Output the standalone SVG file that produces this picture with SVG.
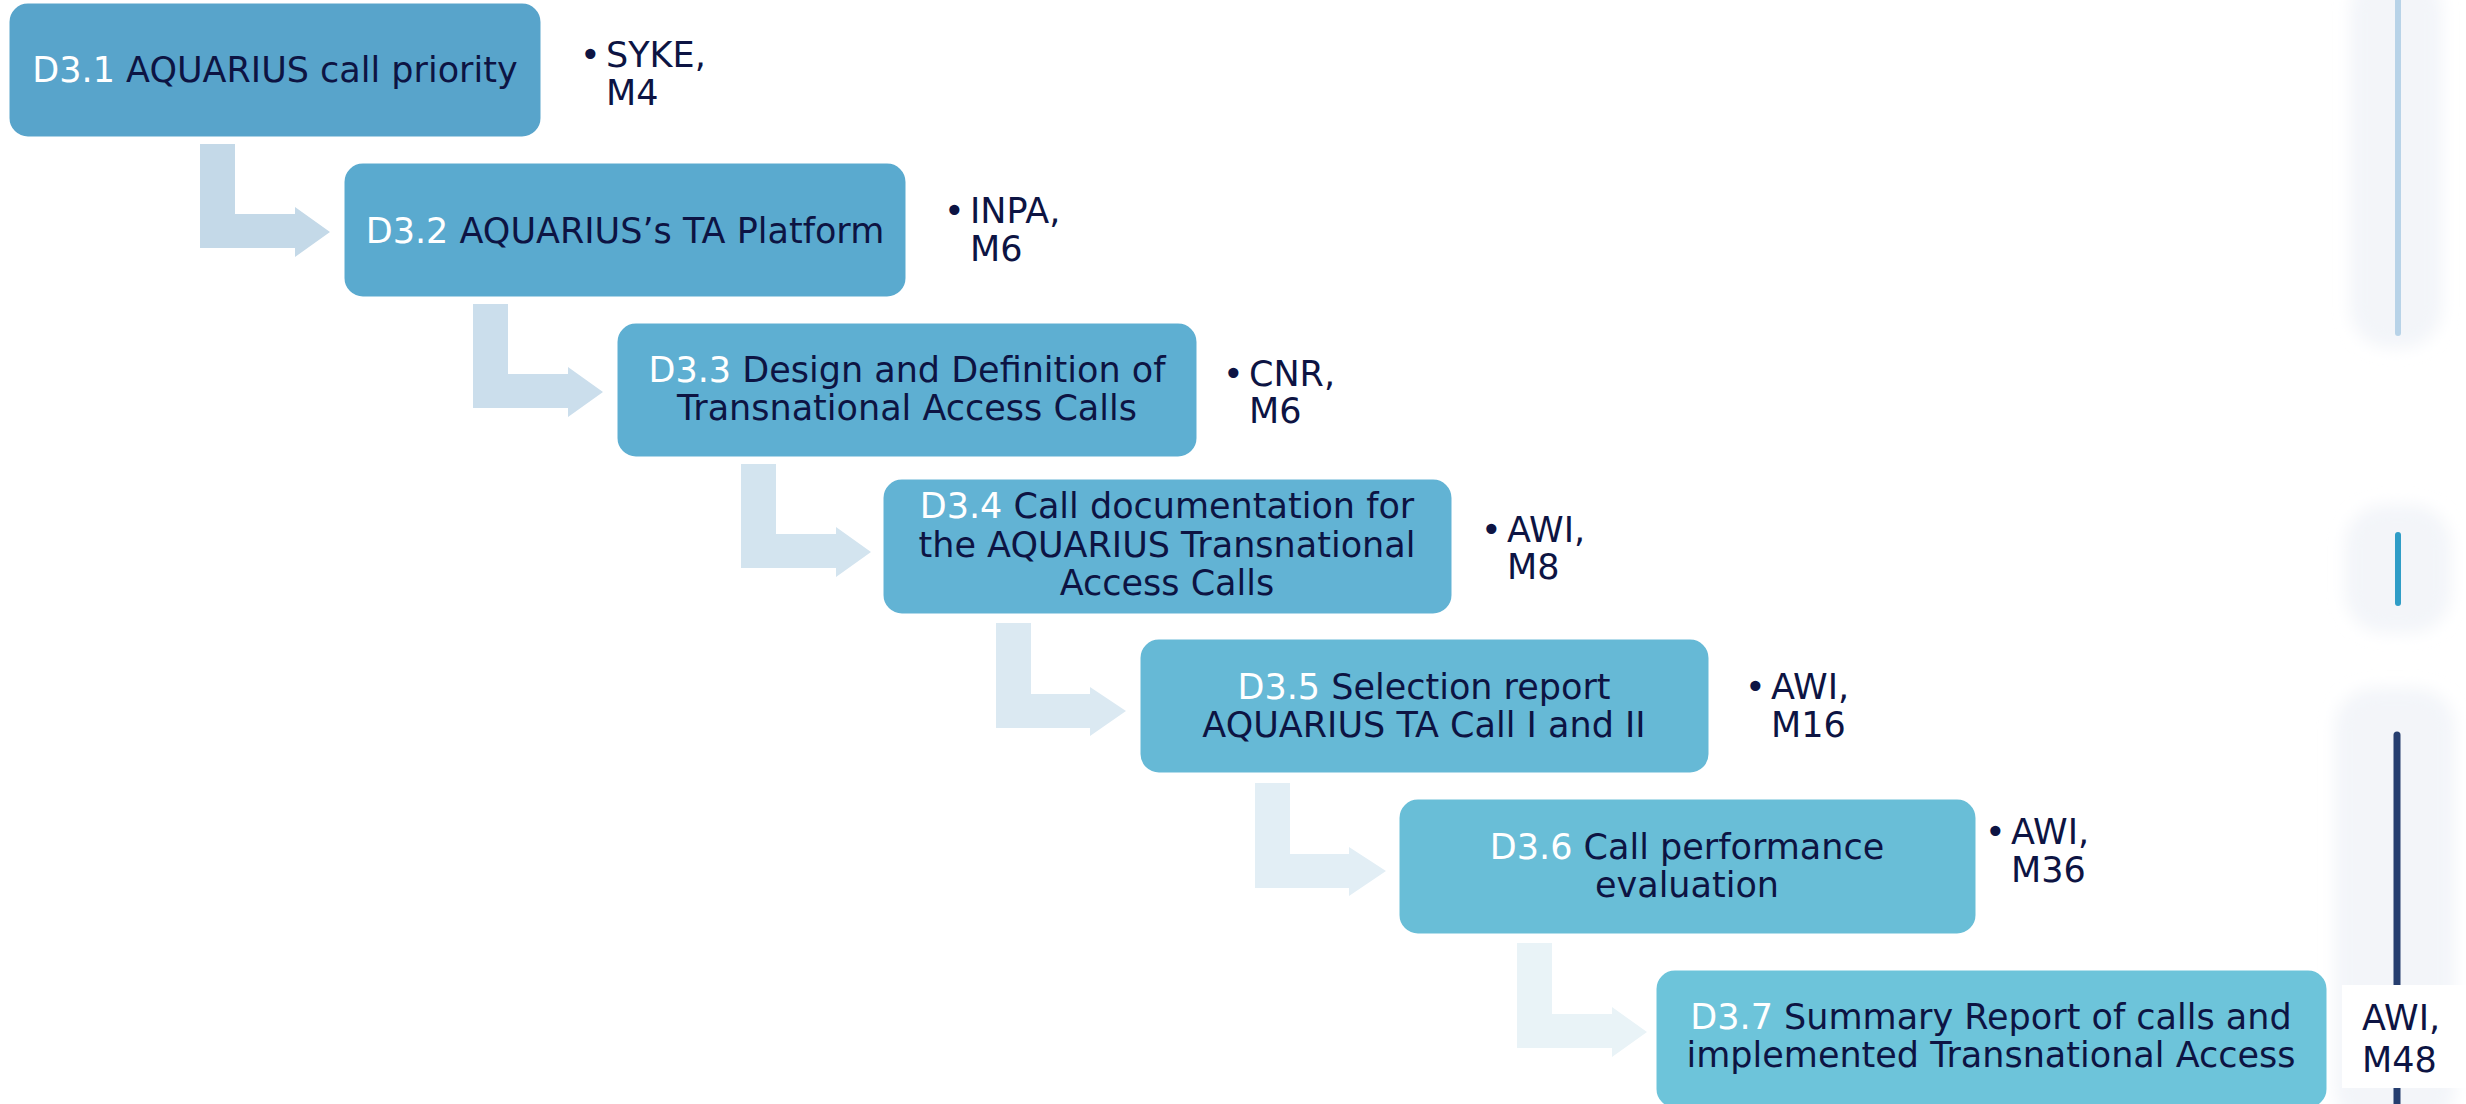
<svg xmlns="http://www.w3.org/2000/svg" width="2466" height="1104" viewBox="0 0 2466 1104">
<style>
  .box { stroke: #ffffff; stroke-width: 3; }
  .t { font-family: "DejaVu Sans", Verdana, sans-serif; font-size: 35px; fill: #0d1443; }
  .tc { text-anchor: middle; }
  .w { fill: #ffffff; }
  .arr { stroke: none; }
  .glow { fill: #f3f5f9; filter: url(#soft); }
</style>
<defs>
  <filter id="soft" x="-50%" y="-50%" width="200%" height="200%">
    <feGaussianBlur stdDeviation="8"/>
  </filter>
</defs>
<rect width="2466" height="1104" fill="#ffffff"/>

<g id="timeline">
  <rect class="glow" x="2350" y="-30" width="92" height="378" rx="40"/>
  <line x1="2398" y1="0" x2="2398" y2="333" stroke="#b8d3e8" stroke-width="6" stroke-linecap="round"/>
  <rect class="glow" x="2345" y="505" width="106" height="128" rx="40"/>
  <line x1="2398" y1="535" x2="2398" y2="603" stroke="#2f9dc7" stroke-width="6" stroke-linecap="round"/>
  <rect class="glow" x="2335" y="688" width="120" height="440" rx="40"/>
  <line x1="2397" y1="735" x2="2397" y2="1110" stroke="#263e6f" stroke-width="7" stroke-linecap="round"/>
</g>

<g id="connectors">
  <path class="arr" fill="#c4d9e8" d="M200,144 L235,144 L235,214 L295,214 L295,207 L330,232 L295,257 L295,248 L200,248 Z"/>
  <path class="arr" fill="#cbdeec" d="M473,304 L508,304 L508,374 L568,374 L568,367 L603,392 L568,417 L568,408 L473,408 Z"/>
  <path class="arr" fill="#d3e4ef" d="M741,464 L776,464 L776,534 L836,534 L836,527 L871,552 L836,577 L836,568 L741,568 Z"/>
  <path class="arr" fill="#dbe9f2" d="M996,623 L1031,623 L1031,694 L1090,694 L1090,687 L1126,711 L1090,736 L1090,728 L996,728 Z"/>
  <path class="arr" fill="#e2eef5" d="M1255,783 L1290,783 L1290,854 L1349,854 L1349,847 L1386,871 L1349,896 L1349,888 L1255,888 Z"/>
  <path class="arr" fill="#e9f3f7" d="M1517,943 L1552,943 L1552,1014 L1612,1014 L1612,1007 L1647,1032 L1612,1057 L1612,1048 L1517,1048 Z"/>
</g>

<g id="d31">
  <rect class="box" x="8" y="2" width="534" height="136" rx="20" fill="#58a4cb"/>
  <text class="t tc" x="275" y="82"><tspan class="w">D3.1</tspan> AQUARIUS call priority</text>
  <text class="t" x="580" y="67">•</text>
  <text class="t" x="606" y="67">SYKE,</text>
  <text class="t" x="606" y="105">M4</text>
</g>

<g id="d32">
  <rect class="box" x="343" y="162" width="564" height="136" rx="20" fill="#5aaacf"/>
  <text class="t tc" x="625" y="243"><tspan class="w">D3.2</tspan> AQUARIUS’s TA Platform</text>
  <text class="t" x="944" y="223">•</text>
  <text class="t" x="970" y="223">INPA,</text>
  <text class="t" x="970" y="261">M6</text>
</g>

<g id="d33">
  <rect class="box" x="616" y="322" width="582" height="136" rx="20" fill="#5eafd2"/>
  <text class="t tc" x="907" y="382"><tspan class="w">D3.3</tspan> Design and Definition of</text>
  <text class="t tc" x="907" y="420">Transnational Access Calls</text>
  <text class="t" x="1223" y="386">•</text>
  <text class="t" x="1249" y="386">CNR,</text>
  <text class="t" x="1249" y="423">M6</text>
</g>

<g id="d34">
  <rect class="box" x="882" y="478" width="571" height="137" rx="20" fill="#62b3d4"/>
  <text class="t tc" x="1167" y="518"><tspan class="w">D3.4</tspan> Call documentation for</text>
  <text class="t tc" x="1167" y="557">the AQUARIUS Transnational</text>
  <text class="t tc" x="1167" y="595">Access Calls</text>
  <text class="t" x="1481" y="542">•</text>
  <text class="t" x="1507" y="542">AWI,</text>
  <text class="t" x="1507" y="579">M8</text>
</g>

<g id="d35">
  <rect class="box" x="1139" y="638" width="571" height="136" rx="20" fill="#66b9d6"/>
  <text class="t tc" x="1424" y="699"><tspan class="w">D3.5</tspan> Selection report</text>
  <text class="t tc" x="1424" y="737">AQUARIUS TA Call I and II</text>
  <text class="t" x="1745" y="699">•</text>
  <text class="t" x="1771" y="699">AWI,</text>
  <text class="t" x="1771" y="737">M16</text>
</g>

<g id="d36">
  <rect class="box" x="1398" y="798" width="579" height="137" rx="20" fill="#69bed7"/>
  <text class="t tc" x="1687" y="859"><tspan class="w">D3.6</tspan> Call performance</text>
  <text class="t tc" x="1687" y="897">evaluation</text>
  <text class="t" x="1985" y="844">•</text>
  <text class="t" x="2011" y="844">AWI,</text>
  <text class="t" x="2011" y="882">M36</text>
</g>

<g id="d37">
  <rect class="box" x="1655" y="969" width="673" height="140" rx="20" fill="#6dc4da"/>
  <text class="t tc" x="1991" y="1029"><tspan class="w">D3.7</tspan> Summary Report of calls and</text>
  <text class="t tc" x="1991" y="1067">implemented Transnational Access</text>
  <rect x="2342" y="985" width="130" height="103" fill="#ffffff"/>
  <text class="t" x="2362" y="1030">AWI,</text>
  <text class="t" x="2362" y="1072">M48</text>
</g>
</svg>
